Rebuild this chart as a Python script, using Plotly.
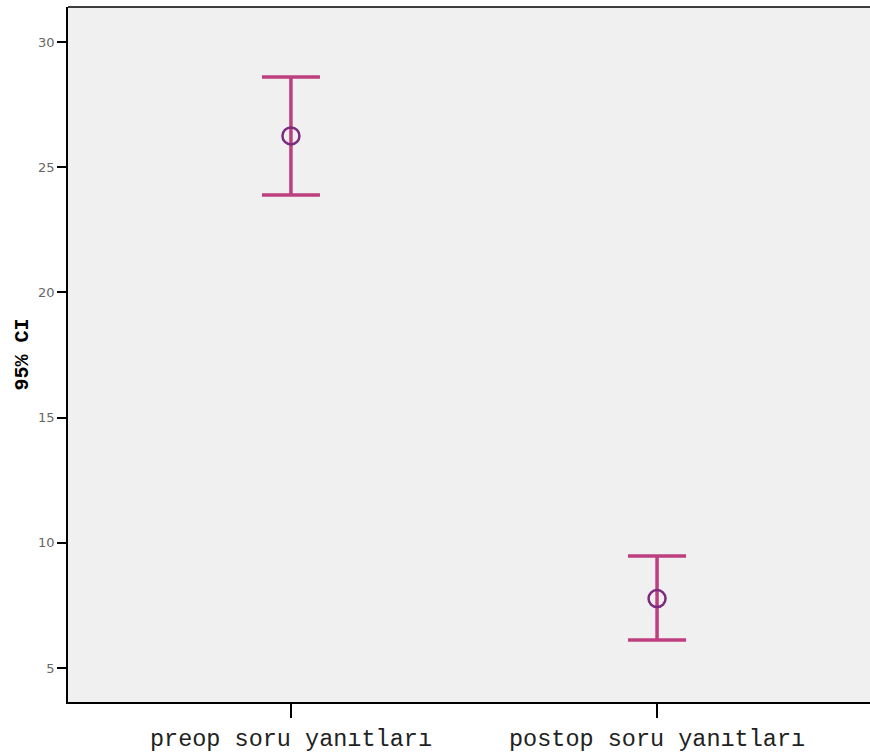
import plotly.graph_objects as go

categories = ["preop soru yanıtları", "postop soru yanıtları"]
means = [26.25, 7.77]
upper = [28.6, 9.47]
lower = [23.89, 6.12]

err_plus = [u - m for u, m in zip(upper, means)]
err_minus = [m - l for m, l in zip(means, lower)]

fig = go.Figure()
fig.add_trace(go.Scatter(
    x=[0, 1], y=means, mode="markers",
    marker=dict(symbol="circle-open", size=17, color="#7B2A7E", line=dict(width=2.5, color="#7B2A7E")),
    error_y=dict(type="data", symmetric=False, array=err_plus, arrayminus=err_minus,
                 color="#BE3F7F", thickness=3.5, width=29),
    showlegend=False, hoverinfo="skip",
))

fig.update_layout(
    width=880, height=752,
    margin=dict(l=68, r=0, t=7, b=50),
    paper_bgcolor="white", plot_bgcolor="#F0F0F0",
    xaxis=dict(range=[-0.609, 1.609], tickmode="array", tickvals=[0, 1], ticktext=categories,
               showgrid=False, zeroline=False, showline=True, linecolor="black", linewidth=1.5,
               ticks="outside", ticklen=14, tickwidth=1.5, tickcolor="black",
               tickfont=dict(family="Liberation Mono, Courier New, monospace", size=23.5, color="#222")),
    yaxis=dict(range=[3.64, 31.4], tickvals=[5, 10, 15, 20, 25, 30],
               showgrid=False, zeroline=False, showline=True, linecolor="black", linewidth=1.5,
               ticks="outside", ticklen=9, tickwidth=1.5, tickcolor="black",
               tickfont=dict(family="DejaVu Sans, sans-serif", size=13, color="#666"),
               title=dict(text="<b>95% CI</b>", standoff=4,
                          font=dict(family="Liberation Mono, Courier New, monospace", size=20, color="black"))),
    shapes=[dict(type="line", xref="paper", yref="paper", x0=0, x1=1, y0=1, y1=1,
                 line=dict(color="black", width=1.5))],
)

fig.write_html("out.html", config={"displayModeBar": False},
               post_script="document.body.style.margin='0';document.body.style.overflow='hidden';")
